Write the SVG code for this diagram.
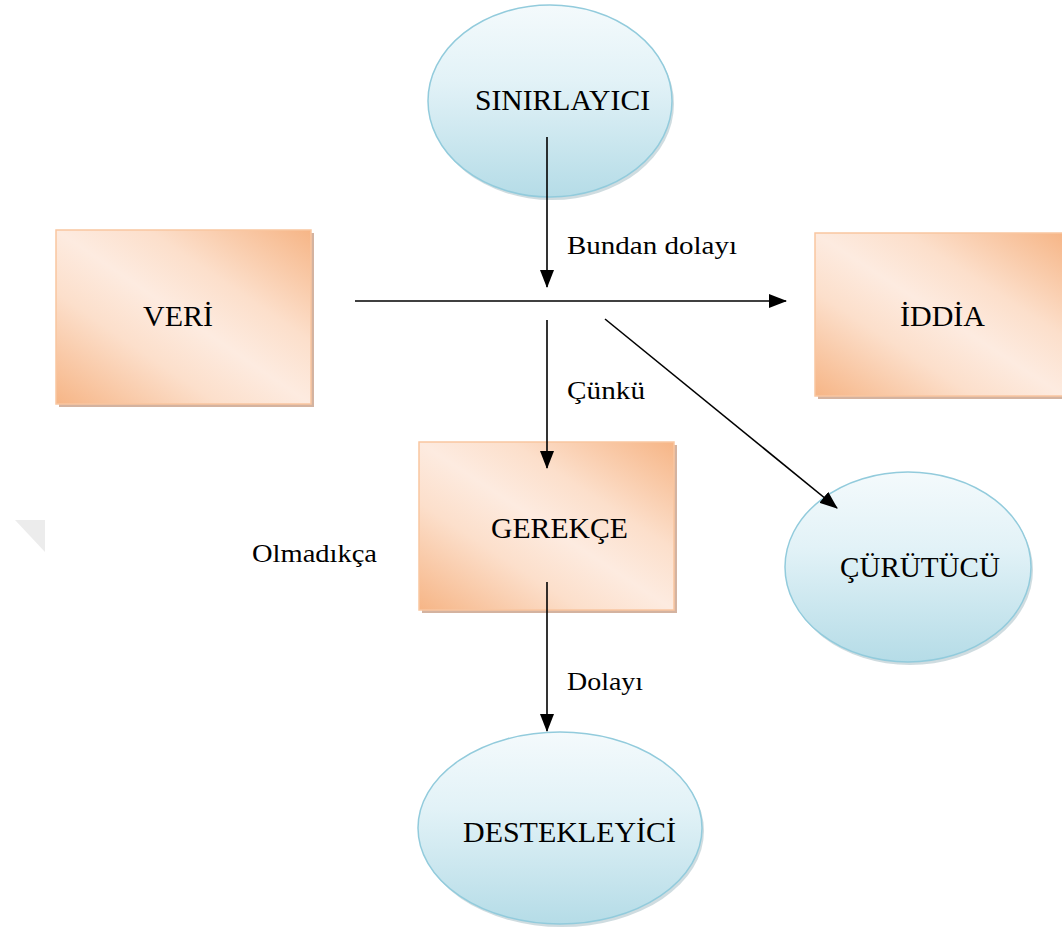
<svg xmlns="http://www.w3.org/2000/svg" width="1062" height="929" viewBox="0 0 1062 929">
<defs>
<linearGradient id="peach" x1="0" y1="1" x2="1" y2="0">
<stop offset="0" stop-color="#f6b586"/>
<stop offset="0.32" stop-color="#fcdfcb"/>
<stop offset="0.5" stop-color="#fdebe0"/>
<stop offset="0.68" stop-color="#fcdfcb"/>
<stop offset="1" stop-color="#f6b586"/>
</linearGradient>
<linearGradient id="blue" x1="0" y1="0" x2="0" y2="1">
<stop offset="0" stop-color="#f4fafc"/>
<stop offset="0.4" stop-color="#e2f2f7"/>
<stop offset="1" stop-color="#b5dce7"/>
</linearGradient>
<marker id="arrL" markerWidth="18" markerHeight="14" refX="17" refY="7" orient="auto" markerUnits="userSpaceOnUse" viewBox="0 0 18 14">
<path d="M0,0 L18,7 L0,14 z" fill="#000"/>
</marker>
</defs>
<style>
.box{fill:url(#peach);stroke:#f9c6a0;stroke-width:1.5}
.shadow{fill:#c9a088;opacity:0.8}
.ell{fill:url(#blue);stroke:#92cbdc;stroke-width:1.5}
.eshadow{fill:#9fb9c2;opacity:0.5}
.t{font-family:"Liberation Serif","Times New Roman",serif;font-size:30px;fill:#000}
.l{font-family:"Liberation Serif","Times New Roman",serif;font-size:26px;fill:#000}
.c{stroke:#000;stroke-width:1.6;fill:none;marker-end:url(#arrL)}
</style>
<polygon points="15,520 45,520 45,552" fill="#ececec"/>
<g id="sinirlayici">
<ellipse class="eshadow" cx="552" cy="104" rx="122" ry="96"/>
<ellipse class="ell" cx="550" cy="101" rx="122" ry="96"/>
<text class="t" x="475" y="110" textLength="175" lengthAdjust="spacingAndGlyphs">SINIRLAYICI</text>
</g>
<g id="veri">
<rect class="shadow" x="59" y="233" width="255" height="174"/>
<rect class="box" x="56" y="230" width="255" height="174"/>
<text class="t" x="143" y="326" textLength="70" lengthAdjust="spacingAndGlyphs">VERİ</text>
</g>
<g id="iddia">
<rect class="shadow" x="818" y="236" width="250" height="163"/>
<rect class="box" x="815" y="233" width="250" height="163"/>
<text class="t" x="900" y="326" textLength="85" lengthAdjust="spacingAndGlyphs">İDDİA</text>
</g>
<g id="gerekce">
<rect class="shadow" x="422" y="445" width="255" height="168"/>
<rect class="box" x="419" y="442" width="255" height="168"/>
<text class="t" x="491" y="538" textLength="137" lengthAdjust="spacingAndGlyphs">GEREKÇE</text>
</g>
<g id="curutucu">
<ellipse class="eshadow" cx="910" cy="570" rx="123" ry="95"/>
<ellipse class="ell" cx="908" cy="567" rx="123" ry="95"/>
<text class="t" x="840" y="577" textLength="160" lengthAdjust="spacingAndGlyphs">ÇÜRÜTÜCÜ</text>
</g>
<g id="destekleyici">
<ellipse class="eshadow" cx="562" cy="831" rx="142" ry="96"/>
<ellipse class="ell" cx="560" cy="828" rx="142" ry="96"/>
<text class="t" x="463" y="842" textLength="213" lengthAdjust="spacingAndGlyphs">DESTEKLEYİCİ</text>
</g>
<g id="connectors">
<line class="c" x1="547" y1="137" x2="547" y2="287"/>
<line class="c" x1="355" y1="301" x2="786" y2="301"/>
<line class="c" x1="547" y1="320" x2="547" y2="468"/>
<line class="c" x1="605" y1="319" x2="837" y2="508"/>
<line class="c" x1="547" y1="582" x2="547" y2="731"/>
</g>
<g id="labels">
<text class="l" x="567" y="254" textLength="170" lengthAdjust="spacingAndGlyphs">Bundan dolayı</text>
<text class="l" x="567" y="399" textLength="78" lengthAdjust="spacingAndGlyphs">Çünkü</text>
<text class="l" x="252" y="562" textLength="125" lengthAdjust="spacingAndGlyphs">Olmadıkça</text>
<text class="l" x="567" y="690" textLength="76" lengthAdjust="spacingAndGlyphs">Dolayı</text>
</g>
</svg>
